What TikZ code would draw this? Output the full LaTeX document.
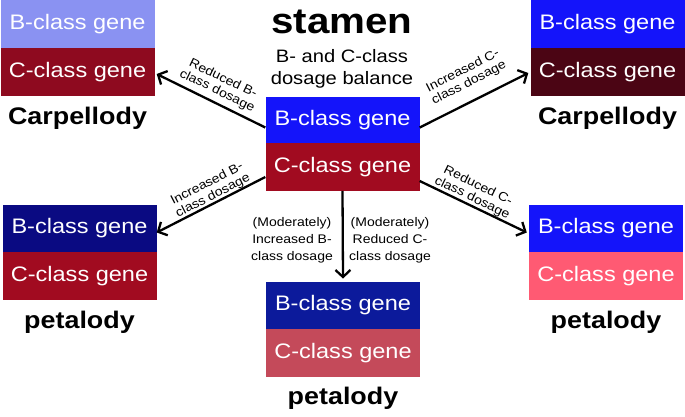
\documentclass[tikz,border=0pt]{standalone}
\usepackage{fontspec}
\setmainfont{Liberation Sans}[FakeStretch=1.12]
\usetikzlibrary{arrows.meta,calc}
\definecolor{tlB}{HTML}{8A92F2}
\definecolor{tlC}{HTML}{8E0A1F}
\definecolor{cB}{HTML}{1414FA}
\definecolor{cC}{HTML}{A10B20}
\definecolor{trC}{HTML}{4B0514}
\definecolor{lmB}{HTML}{0A0A82}
\definecolor{rmC}{HTML}{FF5A73}
\definecolor{bB}{HTML}{0C1A9B}
\definecolor{bC}{HTML}{C44A5A}
\tikzset{
  gbox/.style={rectangle, minimum width=154pt, minimum height=47.5pt, inner sep=0pt, text=white, font=\fontsize{21}{25}\selectfont},
  outcome/.style={font=\fontsize{24}{28}\selectfont\bfseries, inner sep=0pt},
  arr/.style={line width=2.3pt, -{Straight Barb[length=7pt,width=15pt,line width=2.3pt]}},
  lab/.style={font=\fontsize{12.5}{13.5}\selectfont, align=center, inner sep=0pt}
}
\begin{document}
\begin{tikzpicture}[x=1pt,y=-1pt]
\useasboundingbox (0,0) rectangle (685,416);
% title
\node[font=\fontsize{36}{40}\selectfont\bfseries, inner sep=0pt] (title) at (342,22) {stamen};
\node[font=\fontsize{18}{22}\selectfont, align=center, inner sep=0pt] (bal) at (342,69) {B- and C-class\\dosage balance};
% center
\node[gbox, fill=cB] (cB) at (342.5,120.5) {B-class gene};
\node[gbox, fill=cC] (cCC) at (342.5,167) {C-class gene};
% top left
\node[gbox, fill=tlB] (tlB) at (77.5,24) {B-class gene};
\node[gbox, fill=tlC] (tlC) at (77.5,72) {C-class gene};
\node[outcome] (tlL) at (77.5,118) {Carpellody};
% top right
\node[gbox, fill=cB] (trB) at (607.5,24) {B-class gene};
\node[gbox, fill=trC] (trC) at (607.5,72) {C-class gene};
\node[outcome] (trL) at (607.5,118) {Carpellody};
% left mid
\node[gbox, fill=lmB] (lmB) at (79.5,228.5) {B-class gene};
\node[gbox, fill=cC] (lmC) at (79.5,276) {C-class gene};
\node[outcome] (lmL) at (79.5,322) {petalody};
% right mid
\node[gbox, fill=cB] (rmB) at (606,228.5) {B-class gene};
\node[gbox, fill=rmC] (rmC) at (606,276) {C-class gene};
\node[outcome] (rmL) at (606,322) {petalody};
% bottom
\node[gbox, fill=bB] (bB) at (343,305.5) {B-class gene};
\node[gbox, fill=bC] (bC) at (343,353) {C-class gene};
\node[outcome] (bL) at (343,398) {petalody};
% arrows
\draw[arr] ($(cB.west)+(0,7)$) -- ($(tlC.east)+(2,2)$);
\draw[arr] ($(cB.east)+(0,7)$) -- ($(trC.west)+(-2,1)$);
\draw[arr] ($(cCC.west)+(0,10)$) -- ($(lmB.east)+(0,4)$);
\draw[arr] ($(cCC.east)+(0,14)$) -- ($(rmB.west)+(-2,4)$);
\draw[arr] (cCC.south) -- ($(bB.north)+(0,-3)$);
% labels
\node[lab, rotate=-26] (l1) at (220,85) {Reduced B-\\class dosage};
\node[lab, rotate=27] (l2) at (466,77) {Increased C-\\class dosage};
\node[lab, rotate=27] (l3) at (210,190) {Increased B-\\class dosage};
\node[lab, rotate=-26] (l4) at (475,192) {Reduced C-\\class dosage};
\node[lab, font=\fontsize{12.5}{17}\selectfont] (l5) at (292,240) {(Moderately)\\Increased B-\\class dosage};
\node[lab, font=\fontsize{12.5}{17}\selectfont] (l6) at (390,240) {(Moderately)\\Reduced C-\\class dosage};
\end{tikzpicture}
\end{document}
